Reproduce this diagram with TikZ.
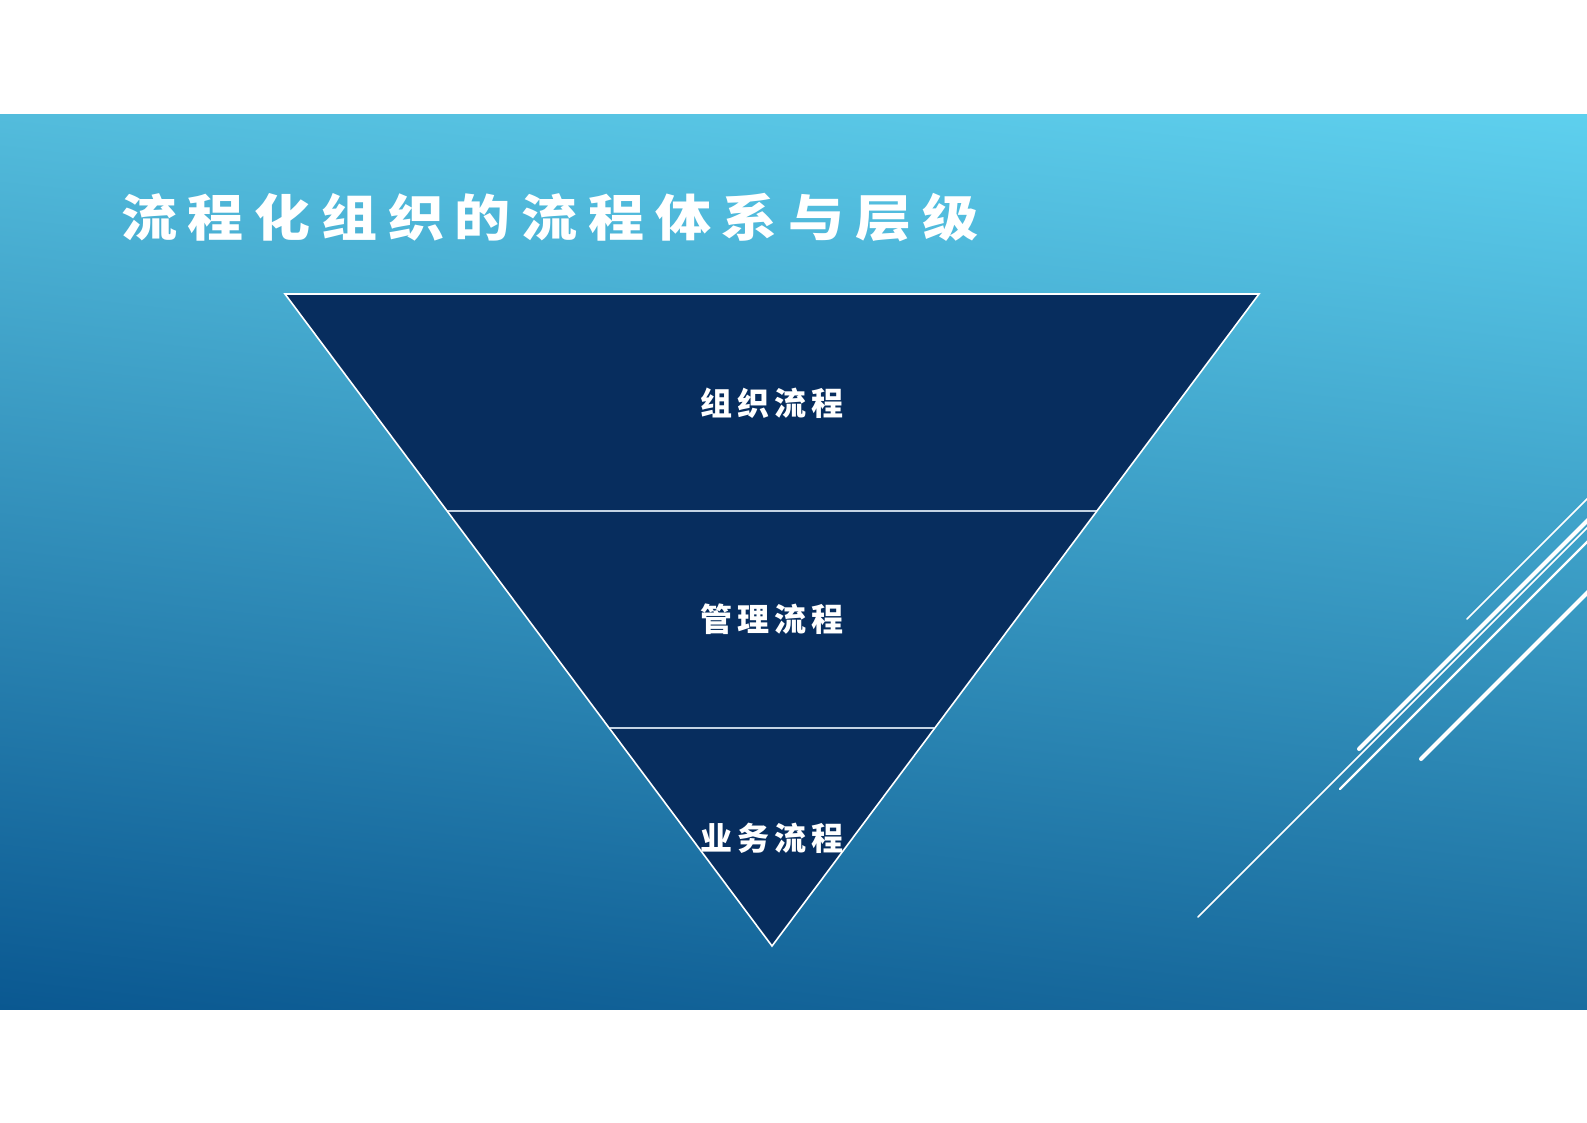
\documentclass[tikz,border=0pt]{standalone}
\usepackage{fontspec}
\usetikzlibrary{shadings}
\newfontfamily\cjk{Noto Sans CJK SC}
\definecolor{bgUL}{HTML}{53BCDC}
\definecolor{bgUR}{HTML}{5ED0EE}
\definecolor{bgLL}{HTML}{0A5891}
\definecolor{bgLR}{HTML}{1A6D9F}
\definecolor{navy}{HTML}{072D5E}
\definecolor{divline}{HTML}{C3D3E3}
\newcommand{\tgap}{\hspace{9.6pt}}
\newcommand{\lgap}{\hspace{5pt}}
\tikzset{
  titletext/.style={anchor=west, inner sep=0pt, text=white, font=\cjk\bfseries\fontsize{50}{60}\selectfont},
  layertext/.style={inner sep=0pt, text=white, font=\cjk\bfseries\fontsize{32}{36}\selectfont},
  layeredge/.style={draw=white, line width=1.6pt, line join=miter},
  divider/.style={draw=divline, line width=2pt},
  thinray/.style={draw=white, line width=1.5pt, line cap=round},
  midray/.style={draw=white, line width=2.2pt, line cap=round},
  thickray/.style={draw=white, line width=4pt, line cap=round},
}
\begin{document}
\begin{tikzpicture}[x=1pt,y=-1pt]
\useasboundingbox (0,0) rectangle (1587,1122);
\fill[white] (0,0) rectangle (1587,1122);
% banner background
\shade[upper left=bgUL, upper right=bgUR, lower left=bgLL, lower right=bgLR] (0,114) rectangle (1587,1009);
% title
\node[titletext] (title) at (121,218) {\scalebox{1.12}[1]{流\tgap 程\tgap 化\tgap 组\tgap 织\tgap 的\tgap 流\tgap 程\tgap 体\tgap 系\tgap 与\tgap 层\tgap 级}};
% triangle
\coordinate (tl) at (285,294);
\coordinate (tr) at (1259,294);
\coordinate (bt) at (772,946);
\coordinate (d1l) at (447,511);
\coordinate (d1r) at (1097,511);
\coordinate (d2l) at (610,728);
\coordinate (d2r) at (934,728);
\fill[navy] (tl) -- (tr) -- (bt) -- cycle;
\draw[divider] (d1l) -- (d1r);
\draw[divider] (d2l) -- (d2r);
\draw[layeredge] (tl) -- (tr) -- (bt) -- cycle;
\node[layertext] (l1) at (772,403) {组\lgap 织\lgap 流\lgap 程};
\node[layertext] (l2) at (772,619) {管\lgap 理\lgap 流\lgap 程};
\node[layertext] (l3) at (772,838) {业\lgap 务\lgap 流\lgap 程};
% decorative rays
\begin{scope}
\clip (0,114) rectangle (1587,1009);
\coordinate (a1) at (1467,619); \coordinate (a2) at (1600,486);
\coordinate (b1) at (1359,749); \coordinate (b2) at (1600,508);
\coordinate (c1) at (1198,917); \coordinate (c2) at (1600,515);
\coordinate (e1) at (1340,789); \coordinate (e2) at (1600,529);
\coordinate (f1) at (1421,759); \coordinate (f2) at (1600,580);
\draw[thinray] (a1) -- (a2);
\draw[thickray] (b1) -- (b2);
\draw[thinray] (c1) -- (c2);
\draw[midray] (e1) -- (e2);
\draw[thickray] (f1) -- (f2);
\end{scope}
\end{tikzpicture}
\end{document}
